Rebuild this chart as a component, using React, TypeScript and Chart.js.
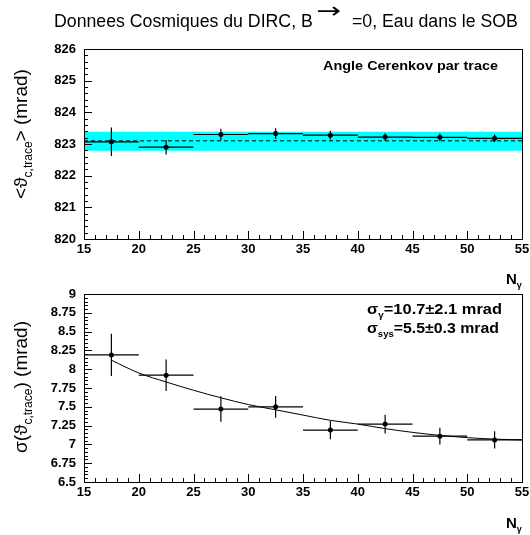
import React, { useEffect, useRef } from "react";
import { Chart, registerables } from "chart.js";
Chart.register(...registerables);

// ---------- data ----------
const binCenters = [17.5, 22.5, 27.5, 32.5, 37.5, 42.5, 47.5, 52.5];
const binHalfWidths = [2.5, 2.5, 2.5, 2.5, 2.5, 2.5, 2.5, 2.5];
const meanAngle = [823.07, 822.9, 823.3, 823.33, 823.28, 823.22, 823.21, 823.18];
const meanAngleErr = [0.45, 0.23, 0.18, 0.17, 0.14, 0.12, 0.12, 0.12];
const meanFitLimits = [15, 55];
const meanFitValue = [823.1, 823.1];
const bandUpper = [823.39, 823.39];
const bandLower = [822.79, 822.79];
const sigmaAngle = [8.19, 7.92, 7.47, 7.5, 7.19, 7.27, 7.11, 7.06];
const sigmaAngleErr = [0.28, 0.21, 0.17, 0.145, 0.12, 0.125, 0.11, 0.115];
const fitCurveX = [17.5, 20, 22.5, 25, 27.5, 30, 32.5, 35, 37.5, 40, 42.5, 45, 47.5, 50, 52.5, 55];
const fitCurveY = [8.12, 7.95, 7.83, 7.72, 7.62, 7.53, 7.46, 7.39, 7.32, 7.27, 7.21, 7.16, 7.12, 7.09, 7.07, 7.06];
const xTicks = [15, 20, 25, 30, 35, 40, 45, 50, 55];
const topYTicks = [820, 821, 822, 823, 824, 825, 826];
const bottomYTicks = [6.5, 6.75, 7, 7.25, 7.5, 7.75, 8, 8.25, 8.5, 8.75, 9];

const TICK_FONT = { family: "'Liberation Sans', Arial, sans-serif", size: 13, weight: "bold" as const };
const SANS = "'Liberation Sans', Arial, sans-serif";

type Part = { t: string; sub?: boolean };

function partsWidth(ctx: CanvasRenderingContext2D, parts: Part[], size: number, weight: string, family: string) {
  let w = 0;
  for (const p of parts) {
    ctx.font = `${weight} ${p.sub ? Math.round(size * 0.62) : size}px ${family}`;
    w += ctx.measureText(p.t).width;
  }
  return w;
}

function drawParts(
  ctx: CanvasRenderingContext2D,
  parts: Part[],
  x: number,
  y: number,
  size: number,
  weight: string,
  family: string,
  align: "left" | "center" | "right"
) {
  const total = partsWidth(ctx, parts, size, weight, family);
  let cx = align === "left" ? x : align === "center" ? x - total / 2 : x - total;
  ctx.textAlign = "left";
  ctx.textBaseline = "alphabetic";
  for (const p of parts) {
    const s = p.sub ? Math.round(size * 0.62) : size;
    ctx.font = `${weight} ${s}px ${family}`;
    ctx.fillText(p.t, cx, p.sub ? y + size * 0.28 : y);
    cx += ctx.measureText(p.t).width;
  }
}

function hBars(xs: number[], ys: number[], half: number[]) {
  const out: { x: number; y: number | null }[] = [];
  xs.forEach((x, i) => {
    out.push({ x: x - half[i], y: ys[i] }, { x: x + half[i], y: ys[i] }, { x, y: null });
  });
  return out;
}
function vBars(xs: number[], ys: number[], err: number[]) {
  const out: { x: number; y: number | null }[] = [];
  xs.forEach((x, i) => {
    out.push({ x, y: ys[i] - err[i] }, { x, y: ys[i] + err[i] }, { x, y: null });
  });
  return out;
}

function framePlugin(minorDiv: number) {
  return {
    id: "frameTicks",
    afterDraw(chart: any) {
      const { ctx, chartArea: a } = chart;
      const xs = chart.scales.x;
      const ys = chart.scales.y;
      ctx.save();
      ctx.strokeStyle = "#000";
      ctx.lineWidth = 1;
      ctx.strokeRect(Math.round(a.left) + 0.5, Math.round(a.top) + 0.5, Math.round(a.right - a.left), Math.round(a.bottom - a.top));
      ctx.beginPath();
      const xt = xs.ticks.map((t: any) => t.value);
      for (let i = 0; i < xt.length; i++) {
        const px = Math.round(xs.getPixelForValue(xt[i])) + 0.5;
        ctx.moveTo(px, a.bottom);
        ctx.lineTo(px, a.bottom - 8);
        if (i < xt.length - 1) {
          for (let k = 1; k < 5; k++) {
            const v = xt[i] + ((xt[i + 1] - xt[i]) * k) / 5;
            const p = Math.round(xs.getPixelForValue(v)) + 0.5;
            ctx.moveTo(p, a.bottom);
            ctx.lineTo(p, a.bottom - 4);
          }
        }
      }
      const yt = ys.ticks.map((t: any) => t.value);
      for (let i = 0; i < yt.length; i++) {
        const py = Math.round(ys.getPixelForValue(yt[i])) + 0.5;
        ctx.moveTo(a.left, py);
        ctx.lineTo(a.left + 8, py);
        if (i < yt.length - 1) {
          for (let k = 1; k < minorDiv; k++) {
            const v = yt[i] + ((yt[i + 1] - yt[i]) * k) / minorDiv;
            const p = Math.round(ys.getPixelForValue(v)) + 0.5;
            ctx.moveTo(a.left, p);
            ctx.lineTo(a.left + 4, p);
          }
        }
      }
      ctx.stroke();
      ctx.restore();
    },
  };
}

function textPlugin(draw: (ctx: CanvasRenderingContext2D, chart: any) => void) {
  return {
    id: "texts",
    afterDraw(chart: any) {
      const ctx = chart.ctx as CanvasRenderingContext2D;
      ctx.save();
      ctx.fillStyle = "#000";
      draw(ctx, chart);
      ctx.restore();
    },
  };
}

function baseOptions(yMin: number, yMax: number, yTicks: number[], padding: any, fmt: (v: number) => string) {
  return {
    animation: false,
    responsive: false,
    devicePixelRatio: 1,
    layout: { padding },
    plugins: { legend: { display: false }, tooltip: { enabled: false }, title: { display: false } },
    scales: {
      x: {
        type: "linear",
        min: xTicks[0],
        max: xTicks[xTicks.length - 1],
        grid: { display: false, drawTicks: false },
        border: { display: false },
        afterBuildTicks: (s: any) => {
          s.ticks = xTicks.map((v) => ({ value: v }));
        },
        afterFit: (s: any) => {
          s.height = 30;
          s.paddingLeft = 0;
          s.paddingRight = 0;
        },
        ticks: { color: "#000", font: TICK_FONT, padding: 3, maxRotation: 0, autoSkip: false, callback: (v: any) => String(v) },
      },
      y: {
        type: "linear",
        min: yMin,
        max: yMax,
        grid: { display: false, drawTicks: false },
        border: { display: false },
        afterBuildTicks: (s: any) => {
          s.ticks = yTicks.map((v) => ({ value: v }));
        },
        afterFit: (s: any) => {
          s.width = 84;
        },
        ticks: { color: "#000", font: TICK_FONT, padding: 8, autoSkip: false, callback: (v: any) => fmt(Number(v)) },
      },
    },
  };
}

function drawNgamma(ctx: CanvasRenderingContext2D, x: number, y: number) {
  drawParts(ctx, [{ t: "N" }, { t: "γ", sub: true }], x, y, 15, "bold", SANS, "left");
}

function drawFitted(ctx: CanvasRenderingContext2D, parts: Part[], x: number, y: number, width: number, size: number) {
  const w = partsWidth(ctx, parts, size, "bold", SANS);
  ctx.save();
  ctx.translate(x, y);
  ctx.scale(width / w, 1);
  drawParts(ctx, parts, 0, 0, size, "bold", SANS, "left");
  ctx.restore();
}

export default function App() {
  const topRef = useRef<HTMLCanvasElement>(null);
  const botRef = useRef<HTMLCanvasElement>(null);

  useEffect(() => {
    const pts = (xs: number[], ys: number[]) => xs.map((x, i) => ({ x, y: ys[i] }));

    const top = new Chart(topRef.current!, {
      type: "scatter",
      data: {
        datasets: [
          {
            data: pts(meanFitLimits, bandUpper),
            showLine: true,
            pointRadius: 0,
            borderWidth: 0,
            borderColor: "rgba(0,0,0,0)",
            backgroundColor: "#00ffff",
            fill: "+1",
            order: 5,
          },
          {
            data: pts(meanFitLimits, bandLower),
            showLine: true,
            pointRadius: 0,
            borderWidth: 0,
            borderColor: "rgba(0,0,0,0)",
            fill: false,
            order: 4,
          },
          {
            data: pts(meanFitLimits, meanFitValue),
            showLine: true,
            pointRadius: 0,
            borderWidth: 1,
            borderColor: "#000",
            borderDash: [4, 3],
            fill: false,
            order: 3,
          },
          {
            data: hBars(binCenters, meanAngle, binHalfWidths),
            showLine: true,
            spanGaps: false,
            pointRadius: 0,
            borderWidth: 1.2,
            borderColor: "#000",
            fill: false,
            order: 2,
          },
          {
            data: vBars(binCenters, meanAngle, meanAngleErr),
            showLine: true,
            spanGaps: false,
            pointRadius: 0,
            borderWidth: 1.2,
            borderColor: "#000",
            fill: false,
            order: 1,
          },
          {
            data: pts(binCenters, meanAngle),
            pointRadius: 2.5,
            pointBackgroundColor: "#000",
            pointBorderColor: "#000",
            pointBorderWidth: 0,
            order: 0,
          },
        ],
      } as any,
      options: baseOptions(820, 826, topYTicks, { top: 49, right: 8, bottom: 31, left: 0 }, (v) => String(v)) as any,
      plugins: [
        framePlugin(5),
        textPlugin((ctx) => {
          // title
          const p1 = "Donnees Cosmiques du DIRC, B";
          const p2 = "=0, Eau dans le SOB";
          ctx.font = `20px ${SANS}`;
          const w1 = ctx.measureText(p1).width;
          const size = (20 * 259) / w1;
          ctx.font = `${size}px ${SANS}`;
          ctx.textAlign = "left";
          ctx.textBaseline = "alphabetic";
          ctx.fillText(p1, 54, 27);
          ctx.fillText(p2, 352, 27);
          ctx.save();
          ctx.translate(329, 18);
          ctx.scale(1.35, 1);
          ctx.font = `22px 'DejaVu Sans'`;
          ctx.textAlign = "center";
          ctx.fillText("→", 0, 0);
          ctx.restore();
          // y title
          ctx.save();
          ctx.translate(27, 134);
          ctx.rotate(-Math.PI / 2);
          drawParts(
            ctx,
            [{ t: "<ϑ" }, { t: "c,trace", sub: true }, { t: "> (mrad)" }],
            0,
            0,
            19,
            "normal",
            SANS,
            "center"
          );
          ctx.restore();
          // label
          drawFitted(ctx, [{ t: "Angle Cerenkov par trace" }], 323, 70, 175, 13);
          drawNgamma(ctx, 506, 284);
        }),
      ],
    });

    const bot = new Chart(botRef.current!, {
      type: "scatter",
      data: {
        datasets: [
          {
            data: pts(fitCurveX, fitCurveY),
            showLine: true,
            pointRadius: 0,
            borderWidth: 1,
            borderColor: "#000",
            cubicInterpolationMode: "monotone",
            fill: false,
            order: 3,
          },
          {
            data: hBars(binCenters, sigmaAngle, binHalfWidths),
            showLine: true,
            spanGaps: false,
            pointRadius: 0,
            borderWidth: 1.2,
            borderColor: "#000",
            fill: false,
            order: 2,
          },
          {
            data: vBars(binCenters, sigmaAngle, sigmaAngleErr),
            showLine: true,
            spanGaps: false,
            pointRadius: 0,
            borderWidth: 1.2,
            borderColor: "#000",
            fill: false,
            order: 1,
          },
          {
            data: pts(binCenters, sigmaAngle),
            pointRadius: 2.5,
            pointBackgroundColor: "#000",
            pointBorderColor: "#000",
            pointBorderWidth: 0,
            order: 0,
          },
        ],
      } as any,
      options: baseOptions(6.5, 9, bottomYTicks, { top: 34, right: 8, bottom: 23, left: 0 }, (v) =>
        String(Number(v.toFixed(2)))
      ) as any,
      plugins: [
        framePlugin(5),
        textPlugin((ctx) => {
          ctx.save();
          ctx.translate(27, 127);
          ctx.rotate(-Math.PI / 2);
          drawParts(
            ctx,
            [{ t: "σ(ϑ" }, { t: "c,trace", sub: true }, { t: ") (mrad)" }],
            0,
            0,
            19,
            "normal",
            SANS,
            "center"
          );
          ctx.restore();
          drawFitted(ctx, [{ t: "σ" }, { t: "γ", sub: true }, { t: "=10.7±2.1 mrad" }], 367, 54, 135, 15);
          drawFitted(ctx, [{ t: "σ" }, { t: "sys", sub: true }, { t: "=5.5±0.3 mrad" }], 367, 73, 132, 15);
          drawNgamma(ctx, 506, 268);
        }),
      ],
    });

    return () => {
      top.destroy();
      bot.destroy();
    };
  }, []);

  return (
    <div style={{ position: "absolute", left: 0, top: 0, width: 530, height: 535, background: "#fff" }}>
      <canvas ref={topRef} width={530} height={300} style={{ position: "absolute", left: 0, top: 0, width: 530, height: 300 }} />
      <canvas ref={botRef} width={530} height={275} style={{ position: "absolute", left: 0, top: 260, width: 530, height: 275 }} />
    </div>
  );
}
